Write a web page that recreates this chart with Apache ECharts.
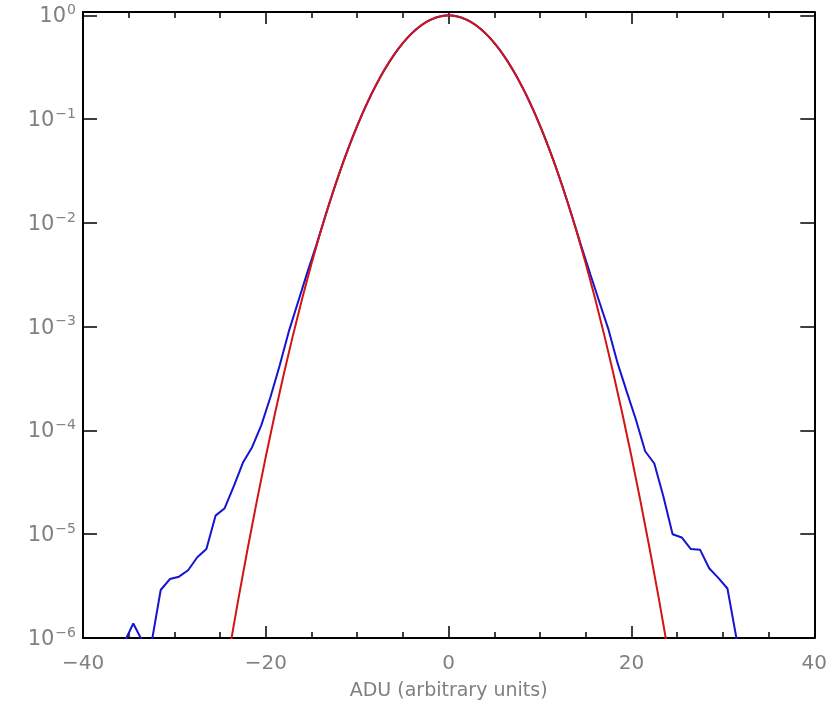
<!DOCTYPE html>
<html>
<head>
<meta charset="utf-8">
<script src="https://cdn.jsdelivr.net/npm/echarts@6/dist/echarts.min.js"></script>
<style>
  html, body { margin: 0; padding: 0; background: #fff; }
  #chart { width: 830px; height: 710px; }
</style>
</head>
<body>
<div id="chart"></div>
<script>
// measured histogram (blue), bins centred on half units
const blueX = [
  -35.5, -34.5, -33.5, -32.5, -31.5, -30.5, -29.5, -28.5, -27.5, -26.5,
  -25.5, -24.5, -23.5, -22.5, -21.5, -20.5, -19.5, -18.5, -17.5, -16.5,
  -15.5, -14.5, -13.5, -12.5, -11.5, -10.5, -9.5, -8.5, -7.5, -6.5,
  -5.5, -4.5, -3.5, -2.5, -1.5, -0.5, 0.5, 1.5, 2.5, 3.5,
  4.5, 5.5, 6.5, 7.5, 8.5, 9.5, 10.5, 11.5, 12.5, 13.5,
  14.5, 15.5, 16.5, 17.5, 18.5, 19.5, 20.5, 21.5, 22.5, 23.5,
  24.5, 25.5, 26.5, 27.5, 28.5, 29.5, 30.5, 31.5
]
const blueY = [
  9.0e-7, 1.38e-6, 9.3e-7, 9.0e-7, 2.9e-6, 3.7e-6, 3.9e-6, 4.5e-6, 6.0e-6, 7.2e-6,
  1.51e-5, 1.78e-5, 2.9e-5, 4.9e-5, 6.9e-5, 1.12e-4, 2.09e-4, 4.17e-4, 8.9e-4, 1.70e-3,
  3.24e-3, 6.0e-3, 1.16e-2, 2.18e-2, 3.93e-2, 6.73e-2, 0.1098, 0.1706, 0.2524, 0.3556,
  0.477, 0.609, 0.741, 0.858, 0.946, 0.994, 0.994, 0.946, 0.858, 0.741,
  0.609, 0.477, 0.3556, 0.2524, 0.1706, 0.1098, 6.73e-2, 3.93e-2, 2.18e-2, 1.16e-2,
  6.0e-3, 3.2e-3, 1.72e-3, 9.3e-4, 4.4e-4, 2.34e-4, 1.26e-4, 6.3e-5, 4.8e-5, 2.3e-5,
  1.0e-5, 9.3e-6, 7.2e-6, 7.1e-6, 4.7e-6, 3.8e-6, 3.0e-6, 9.8e-7
]

// gaussian fit (red)
const redX = [
  -24, -23, -22, -21, -20, -19, -18, -17, -16, -15, -14, -13, -12,
  -11, -10, -9, -8, -7, -6, -5, -4, -3, -2, -1, 0,
  1, 2, 3, 4, 5, 6, 7, 8, 9, 10, 11, 12,
  13, 14, 15, 16, 17, 18, 19, 20, 21, 22, 23, 24
]
const redY = [
  7.5e-7, 2.38e-6, 7.17e-6, 2.05e-5, 5.6e-5, 1.455e-4, 3.6e-4, 8.47e-4, 1.9e-3, 4.06e-3, 8.25e-3, 1.598e-2, 2.946e-2,
  5.17e-2, 8.65e-2, 0.1377, 0.2088, 0.3014, 0.4144, 0.5424, 0.6761, 0.8023, 0.9068, 0.9758, 1,
  0.9758, 0.9068, 0.8023, 0.6761, 0.5424, 0.4144, 0.3014, 0.2088, 0.1377, 8.65e-2, 5.17e-2, 2.946e-2,
  1.598e-2, 8.25e-3, 4.06e-3, 1.9e-3, 8.47e-4, 3.6e-4, 1.455e-4, 5.6e-5, 2.05e-5, 7.17e-6, 2.38e-6, 7.5e-7
]

const xTicks = [-40, -20, 0, 20, 40]
const xName = 'ADU (arbitrary units)'

const labelColor = '#808080'
const font = 'DejaVu Sans'

const chart = echarts.init(document.getElementById('chart'))

function xAxisDef(pos, withLabels) {
  return {
    type: 'value',
    position: pos,
    min: xTicks[0],
    max: xTicks[xTicks.length - 1],
    interval: xTicks[1] - xTicks[0],
    axisLine: { show: true, onZero: false, lineStyle: { color: '#000', width: 2 }},
    axisTick: { show: true, inside: true, length: 12, lineStyle: { color: '#000', width: 1.5 }},
    minorTick: { show: true, splitNumber: 4, length: 6, lineStyle: { color: '#000', width: 1.5 }},
    splitLine: { show: false },
    axisLabel: {
      show: withLabels,
      color: labelColor,
      fontFamily: font,
      fontSize: 20,
      margin: 16,
      formatter: v => String(v).replace('-', '\u2212')
    },
    name: withLabels ? xName : '',
    nameLocation: 'middle',
    nameGap: 44,
    nameTextStyle: { color: labelColor, fontFamily: font, fontSize: 19 }
  }
}

function yAxisDef(pos, withLabels) {
  return {
    type: 'log',
    logBase: 10,
    position: pos,
    min: 1e-6,
    max: 1.076, // box top sits a little above 10^0
    axisLine: { show: true, onZero: false, lineStyle: { color: '#000', width: 2 }},
    axisTick: { show: true, inside: true, length: 14, lineStyle: { color: '#000', width: 1.5 }},
    splitLine: { show: false },
    axisLabel: {
      show: withLabels,
      margin: 7,
      formatter: v => {
        const e = Math.log10(v)
        if (Math.abs(e - Math.round(e)) > 1e-6) return ''
        const r = Math.round(e)
        return '{b|10}{e|' + (r < 0 ? '\u2212' + (-r) : r) + '}'
      },
      rich: {
        b: { color: labelColor, fontFamily: font, fontSize: 21, lineHeight: 24, verticalAlign: 'bottom' },
        e: { color: labelColor, fontFamily: font, fontSize: 14, lineHeight: 24, verticalAlign: 'top', padding: [0, 0, 11, 1] }
      }
    }
  }
}

chart.setOption({
  backgroundColor: '#fff',
  animation: false,
  grid: { left: 83, right: 15, top: 12, bottom: 72 },
  xAxis: [xAxisDef('bottom', true), xAxisDef('top', false)],
  yAxis: [yAxisDef('left', true), yAxisDef('right', false)],
  series: [
    {
      name: 'data',
      type: 'line',
      data: blueX.map((x, i) => [x, blueY[i]]),
      showSymbol: false,
      lineStyle: { color: '#1414d2', width: 2 },
      clip: true
    },
    {
      name: 'fit',
      type: 'line',
      data: redX.map((x, i) => [x, redY[i]]),
      showSymbol: false,
      lineStyle: { color: '#d21414', width: 2 },
      clip: true
    }
  ]
})
</script>
</body>
</html>
